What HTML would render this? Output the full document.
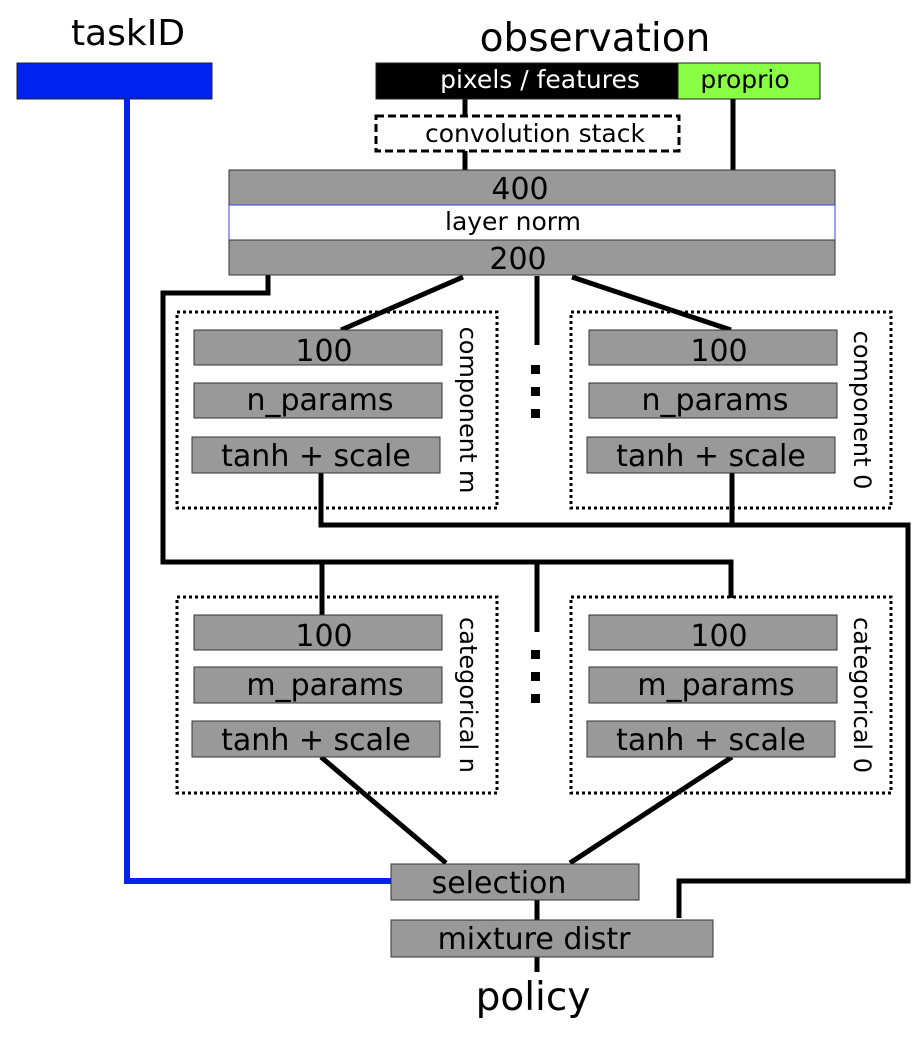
<!DOCTYPE html>
<html><head><meta charset="utf-8">
<style>
html,body{margin:0;padding:0;background:#fff;}
svg{display:block;}
text{font-family:"DejaVu Sans","Liberation Sans",sans-serif;}
</style></head>
<body>
<svg width="924" height="1046" viewBox="0 0 924 1046" xmlns="http://www.w3.org/2000/svg">
<rect width="924" height="1046" fill="#fff"/>
<text x="128" y="45" font-size="36" text-anchor="middle">taskID</text>
<text x="595" y="51" font-size="39" text-anchor="middle">observation</text>
<text x="533" y="1010" font-size="39" text-anchor="middle">policy</text>

<rect x="17" y="63" width="195" height="36" fill="#0022ee" stroke="#222" stroke-width="1"/>
<polyline points="127,99 127,881 392,881" fill="none" stroke="#0022ee" stroke-width="6"/>

<g fill="none" stroke="#000" stroke-width="5">
<line x1="465" y1="99" x2="465" y2="117"/>
<line x1="465" y1="151" x2="465" y2="171"/>
<line x1="733" y1="99" x2="733" y2="171"/>
<polyline points="268,275 268,293 163,293 163,562 731,562 731,598"/>
<line x1="322" y1="562" x2="322" y2="615"/>
<line x1="537" y1="562" x2="537" y2="632"/>
<line x1="463" y1="277" x2="341" y2="330"/>
<line x1="537" y1="276" x2="537" y2="345"/>
<line x1="572" y1="277" x2="731" y2="330"/>
<polyline points="321,473 321,525 908,525 908,881 679,881 679,918"/>
<line x1="732" y1="473" x2="732" y2="525"/>
<line x1="321" y1="757" x2="446" y2="863"/>
<line x1="732" y1="757" x2="570" y2="863"/>
<line x1="537" y1="900" x2="537" y2="921"/>
<line x1="537" y1="957" x2="537" y2="972"/>
</g>
<g fill="#000">
<rect x="531" y="365" width="9" height="9"/><rect x="531" y="387" width="9" height="9"/><rect x="531" y="409" width="9" height="9"/>
<rect x="531" y="650" width="9" height="9"/><rect x="531" y="672" width="9" height="9"/><rect x="531" y="694" width="9" height="9"/>
</g>

<rect x="376" y="63" width="302" height="36" fill="#000" stroke="#222"/>
<text x="540" y="88" font-size="25" fill="#fff" text-anchor="middle">pixels / features</text>
<rect x="678" y="63" width="142" height="36" fill="#88ff44" stroke="#222"/>
<text x="745" y="88" font-size="25" text-anchor="middle">proprio</text>
<rect x="376" y="116" width="303" height="35" fill="#fff" stroke="#000" stroke-width="3" stroke-dasharray="8,4"/>
<text x="535" y="142" font-size="25" text-anchor="middle">convolution stack</text>

<rect x="229" y="170" width="606" height="35" fill="#999" stroke="#333"/>
<text x="520" y="199" font-size="30" text-anchor="middle">400</text>
<rect x="229" y="205" width="606" height="35" fill="#fff" stroke="#3344dd"/>
<text x="513" y="230" font-size="25" text-anchor="middle">layer norm</text>
<rect x="229" y="240" width="606" height="35" fill="#999" stroke="#333"/>
<text x="518" y="269" font-size="30" text-anchor="middle">200</text>

<g fill="none" stroke="#000" stroke-width="3" stroke-dasharray="3,3">
<rect x="177" y="312" width="320" height="196"/>
<rect x="571" y="312" width="320" height="196"/>
<rect x="177" y="597" width="320" height="196"/>
<rect x="571" y="597" width="320" height="196"/>
</g>

<g font-size="30" text-anchor="middle">
<rect x="194" y="330" width="248" height="35" fill="#999" stroke="#333"/>
<text x="324" y="361">100</text>
<rect x="194" y="383" width="248" height="35" fill="#999" stroke="#333"/>
<text x="320" y="410">n_params</text>
<rect x="192" y="437" width="248" height="36" fill="#999" stroke="#333"/>
<text x="316" y="466">tanh + scale</text>
<rect x="589" y="330" width="248" height="35" fill="#999" stroke="#333"/>
<text x="719" y="361">100</text>
<rect x="589" y="383" width="248" height="35" fill="#999" stroke="#333"/>
<text x="715" y="410">n_params</text>
<rect x="587" y="437" width="248" height="36" fill="#999" stroke="#333"/>
<text x="711" y="466">tanh + scale</text>
<rect x="194" y="615" width="248" height="35" fill="#999" stroke="#333"/>
<text x="324" y="646">100</text>
<rect x="194" y="667" width="248" height="36" fill="#999" stroke="#333"/>
<text x="325" y="695">m_params</text>
<rect x="192" y="721" width="248" height="36" fill="#999" stroke="#333"/>
<text x="316" y="750">tanh + scale</text>
<rect x="589" y="615" width="248" height="35" fill="#999" stroke="#333"/>
<text x="719" y="646">100</text>
<rect x="589" y="667" width="248" height="36" fill="#999" stroke="#333"/>
<text x="716" y="695">m_params</text>
<rect x="587" y="721" width="248" height="36" fill="#999" stroke="#333"/>
<text x="711" y="750">tanh + scale</text>
<rect x="391" y="864" width="248" height="36" fill="#999" stroke="#333"/>
<text x="499" y="893">selection</text>
<rect x="391" y="920" width="322" height="37" fill="#999" stroke="#333"/>
<text x="534" y="949">mixture distr</text>
</g>

<g font-size="24" text-anchor="middle">
<text transform="translate(460,410) rotate(90)">component m</text>
<text transform="translate(854,410) rotate(90)">component 0</text>
<text transform="translate(460,695) rotate(90)">categorical n</text>
<text transform="translate(854,695) rotate(90)">categorical 0</text>
</g>
</svg>
</body></html>
